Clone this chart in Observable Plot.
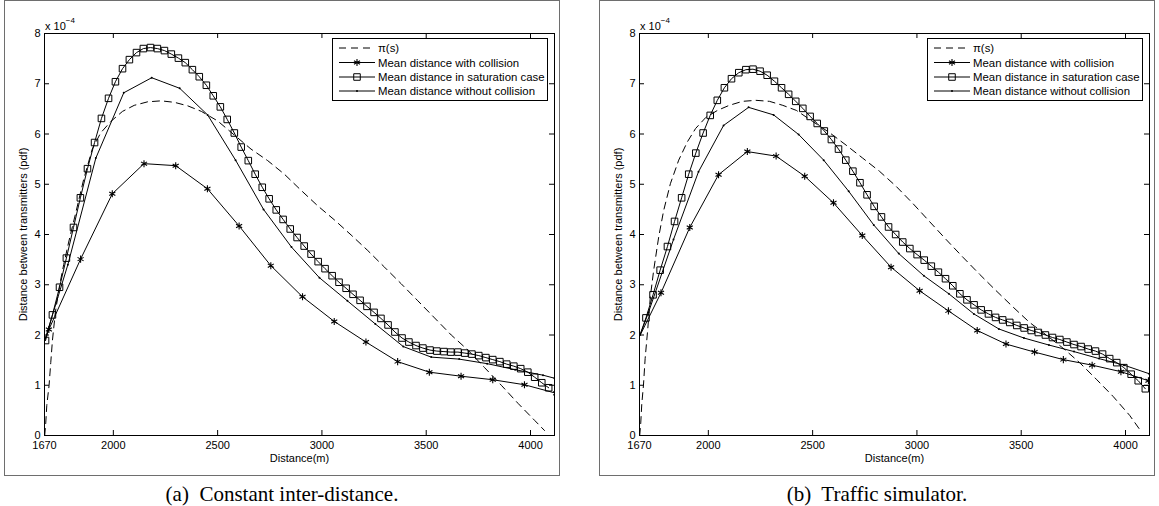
<!DOCTYPE html>
<html><head><meta charset="utf-8">
<script src="https://cdn.jsdelivr.net/npm/d3@7"></script>
<script src="https://cdn.jsdelivr.net/npm/@observablehq/plot@0.6"></script>
<style>
html,body{margin:0;padding:0;background:#fff;}
body{width:1159px;height:506px;position:relative;overflow:hidden;font-family:"Liberation Sans",Arial,Helvetica,sans-serif;color:#000;}
.box{position:absolute;top:0;height:476px;border:1.5px solid #6e6e6e;box-sizing:border-box;}
.plot{position:absolute;top:0;}
.exp{position:absolute;font-size:11px;line-height:11px;}
.exp sup{font-size:8px;position:relative;top:-2px;}
.cap{position:absolute;top:482px;font-family:"Liberation Serif","Times New Roman",serif;font-size:21px;line-height:24px;text-align:center;white-space:pre;}
.leg{position:absolute;}
</style></head><body>
<script>
// ---------- shared axes ----------
const xTicks = [1670, 2000, 2500, 3000, 3500, 4000];
const yTicks = [0, 1, 2, 3, 4, 5, 6, 7, 8];
const legendLabels = ["\u03c0(s)", "Mean distance with collision", "Mean distance in saturation case", "Mean distance without collision"];
const captions = ["(a)  Constant inter-distance.", "(b)  Traffic simulator."];

// ---------- (a) Constant inter-distance ----------
const piDistA = [1671,1676,1681,1692,1700,1708,1722,1742,1762,1786,1818,1858,1899,1939,1988,2044,2100,2164,2229,2293,2357,2422,2500,2580,2660,2740,2820,2900,2980,3060,3140,3220,3300,3380,3460,3540,3620,3700,3780,3860,3940,4020,4067];
const piPdfA  = [0,0.25,0.6,1.0,1.45,1.89,2.45,2.98,3.40,3.85,4.40,5.10,5.70,6.02,6.25,6.45,6.57,6.64,6.66,6.63,6.56,6.45,6.26,5.98,5.70,5.47,5.20,4.88,4.57,4.29,3.99,3.68,3.35,3.02,2.68,2.34,2.00,1.70,1.35,1.00,0.64,0.30,0.10];

const colDistA = [1670,1691,1843,1995,2147,2299,2451,2603,2755,2907,3059,3211,3363,3515,3667,3819,3971,4123];
const colPdfA  = [1.88,2.11,3.51,4.81,5.41,5.37,4.91,4.17,3.38,2.76,2.27,1.86,1.47,1.26,1.18,1.11,1.01,0.84];

const satDistA = [1675,1708,1742,1775,1809,1842,1876,1910,1943,1977,2010,2044,2077,2111,2144,2178,2211,2245,2278,2312,2345,2379,2412,2446,2479,2513,2546,2580,2613,2647,2680,2714,2747,2781,2814,2848,2881,2915,2948,2982,3015,3049,3082,3116,3149,3183,3216,3250,3283,3317,3350,3384,3417,3451,3484,3518,3551,3585,3618,3652,3685,3719,3752,3786,3819,3853,3886,3920,3953,3987,4020,4054,4087];
const satPdfA  = [1.89,2.40,2.95,3.53,4.14,4.73,5.31,5.83,6.31,6.71,7.04,7.30,7.48,7.62,7.70,7.72,7.70,7.66,7.59,7.51,7.42,7.28,7.14,6.97,6.76,6.54,6.29,6.02,5.74,5.47,5.20,4.94,4.71,4.49,4.30,4.11,3.94,3.77,3.61,3.46,3.32,3.18,3.05,2.93,2.81,2.69,2.57,2.45,2.33,2.20,2.06,1.94,1.86,1.79,1.74,1.70,1.68,1.67,1.66,1.66,1.64,1.62,1.59,1.55,1.51,1.47,1.42,1.38,1.33,1.26,1.16,1.05,0.95];

const woDistA = [1670,1782,1916,2050,2184,2318,2452,2586,2720,2854,2988,3122,3256,3390,3524,3658,3792,3926,4060,4115];
const woPdfA  = [1.88,3.40,5.52,6.82,7.12,6.91,6.38,5.48,4.50,3.75,3.14,2.68,2.22,1.77,1.56,1.52,1.43,1.31,1.20,1.14];

// ---------- (b) Traffic simulator ----------
const piDistB = [1671,1676,1681,1689,1697,1709,1722,1738,1762,1786,1818,1858,1899,1939,1988,2044,2100,2164,2229,2293,2357,2422,2500,2580,2660,2740,2820,2900,2980,3060,3140,3220,3300,3380,3460,3540,3620,3700,3780,3860,3940,4020,4068];
const piPdfB  = [0,0.25,0.63,1.0,1.53,2.09,2.76,3.29,3.95,4.48,5.01,5.48,5.84,6.11,6.33,6.47,6.57,6.65,6.67,6.65,6.57,6.47,6.25,6.03,5.78,5.52,5.26,4.96,4.62,4.26,3.90,3.55,3.21,2.88,2.56,2.25,2.00,1.74,1.45,1.12,0.78,0.40,0.12];

const colDistB = [1670,1773,1911,2049,2187,2325,2462,2600,2738,2876,3013,3151,3289,3427,3564,3702,3840,3978,4110];
const colPdfB  = [1.97,2.84,4.14,5.19,5.65,5.56,5.16,4.63,3.98,3.35,2.88,2.48,2.09,1.82,1.66,1.51,1.40,1.27,1.09];

const satDistB = [1670,1701,1735,1769,1804,1838,1872,1906,1940,1975,2009,2043,2077,2111,2146,2180,2214,2248,2282,2317,2351,2385,2419,2453,2488,2522,2556,2590,2624,2659,2693,2727,2761,2795,2830,2864,2898,2932,2966,3001,3035,3069,3103,3137,3172,3206,3240,3274,3308,3343,3377,3411,3445,3479,3514,3548,3582,3616,3650,3685,3719,3753,3787,3821,3856,3890,3924,3958,3992,4027,4061,4095];
const satPdfB  = [1.97,2.34,2.80,3.29,3.76,4.26,4.73,5.20,5.62,6.02,6.37,6.67,6.92,7.10,7.22,7.28,7.29,7.25,7.17,7.05,6.92,6.79,6.65,6.51,6.35,6.21,6.06,5.89,5.70,5.48,5.26,5.03,4.79,4.56,4.35,4.15,4.00,3.85,3.72,3.60,3.49,3.37,3.25,3.12,2.98,2.82,2.70,2.60,2.50,2.42,2.35,2.30,2.25,2.19,2.14,2.09,2.05,2.00,1.95,1.91,1.86,1.81,1.77,1.72,1.68,1.62,1.53,1.45,1.35,1.22,1.09,0.93];

const woDistB = [1670,1713,1833,1953,2073,2193,2313,2433,2553,2673,2793,2913,3033,3153,3273,3393,3513,3633,3753,3873,3993,4113];
const woPdfB  = [1.97,2.45,3.90,5.25,6.17,6.53,6.38,5.99,5.48,4.86,4.19,3.62,3.18,2.82,2.42,2.12,1.94,1.80,1.67,1.53,1.40,1.23];

// ---------- drawing ----------
const zip = (xs, ys) => xs.map((x, i) => ({x, y: ys[i]}));
const W = 556, H = 476, ML = 40, MR = 6, MT = 33, MB = 41;
const FW = W - ML - MR, FH = H - MT - MB, TICK = 5;
const FONT = '"Liberation Sans", Arial, Helvetica, sans-serif';
const DASH = "7,5";

function makePlot(s) {
  const pi = zip(s.piX, s.piY), col = zip(s.colX, s.colY), sat = zip(s.satX, s.satY), wo = zip(s.woX, s.woY);
  const mk = d => d.x > 1670.5;
  return Plot.plot({
    width: W, height: H, marginLeft: ML, marginRight: MR, marginTop: MT, marginBottom: MB,
    style: {fontFamily: FONT, fontSize: "11px", color: "black", background: "transparent", overflow: "visible"},
    x: {domain: [1670, 4115], inset: 0},
    y: {domain: [0, 8], inset: 0},
    marks: [
      Plot.line(pi, {x: "x", y: "y", stroke: "black", strokeWidth: 1, strokeDasharray: DASH, clip: true}),
      Plot.line(col, {x: "x", y: "y", stroke: "black", strokeWidth: 1, clip: true}),
      Plot.line(sat, {x: "x", y: "y", stroke: "black", strokeWidth: 1, clip: true}),
      Plot.line(wo, {x: "x", y: "y", stroke: "black", strokeWidth: 1, clip: true}),
      Plot.dot(col.filter(mk), {x: "x", y: "y", symbol: "asterisk", r: 3.3, stroke: "black", strokeWidth: 1.1, clip: true}),
      Plot.dot(sat.filter(mk), {x: "x", y: "y", symbol: "square", r: 3.7, stroke: "black", fill: "none", strokeWidth: 1, clip: true}),
      Plot.dot(wo.filter(mk), {x: "x", y: "y", r: 1, fill: "black", stroke: "none", clip: true}),
      Plot.frame({stroke: "black", strokeWidth: 1}),
      Plot.tickX(xTicks, {x: d => d, insetTop: FH - TICK, stroke: "black"}),
      Plot.tickX(xTicks, {x: d => d, insetBottom: FH - TICK, stroke: "black"}),
      Plot.tickY(yTicks, {y: d => d, insetRight: FW - TICK, stroke: "black"}),
      Plot.tickY(yTicks, {y: d => d, insetLeft: FW - TICK, stroke: "black"}),
      Plot.axisX({ticks: xTicks, tickSize: 0, tickPadding: 6, tickFormat: d => String(d), fontSize: 11,
        label: "Distance(m)", labelAnchor: "center", labelOffset: 26, labelArrow: "none"}),
      Plot.axisY({ticks: yTicks, tickSize: 0, tickPadding: 4, tickFormat: d => String(d), fontSize: 11,
        label: "Distance between transmitters (pdf)", labelAnchor: "center", labelOffset: 25, labelArrow: "none"})
    ]
  });
}

function makeLegend() {
  const LW = 216, LH = 63;
  const svg = d3.create("svg").attr("width", LW).attr("height", LH)
    .style("font-family", FONT).style("font-size", "11.4px");
  svg.append("rect").attr("x", 0.5).attr("y", 0.5).attr("width", LW - 1).attr("height", LH - 1)
    .attr("fill", "white").attr("stroke", "black").attr("stroke-width", 1);
  const rows = [10, 24.5, 39, 53];
  legendLabels.forEach((lab, i) => {
    const y = rows[i];
    svg.append("line").attr("x1", 7).attr("x2", 43).attr("y1", y).attr("y2", y)
      .attr("stroke", "black").attr("stroke-width", 1).attr("stroke-dasharray", i === 0 ? DASH : null);
    if (i === 1) svg.append("path").attr("d", d3.symbol(d3.symbolAsterisk, Math.PI * 3.3 * 3.3)()).attr("transform", `translate(25,${y})`).attr("stroke", "black").attr("stroke-width", 1.1);
    if (i === 2) svg.append("path").attr("d", d3.symbol(d3.symbolSquare, Math.PI * 3.7 * 3.7)()).attr("transform", `translate(25,${y})`).attr("stroke", "black").attr("fill", "none");
    if (i === 3) svg.append("circle").attr("cx", 25).attr("cy", y).attr("r", 1).attr("fill", "black");
    svg.append("text").attr("x", 46).attr("y", y).attr("dy", "0.36em").text(lab);
  });
  return svg.node();
}

const panels = [
  {left: 4, piX: piDistA, piY: piPdfA, colX: colDistA, colY: colPdfA, satX: satDistA, satY: satPdfA, woX: woDistA, woY: woPdfA, cap: captions[0]},
  {left: 599, piX: piDistB, piY: piPdfB, colX: colDistB, colY: colPdfB, satX: satDistB, satY: satPdfB, woX: woDistB, woY: woPdfB, cap: captions[1]}
];

panels.forEach(p => {
  const box = document.createElement("div");
  box.className = "box"; box.style.left = p.left + "px"; box.style.width = W + "px";
  document.body.appendChild(box);

  const holder = document.createElement("div");
  holder.className = "plot"; holder.style.left = p.left + "px";
  holder.appendChild(makePlot(p));
  document.body.appendChild(holder);

  const exp = document.createElement("div");
  exp.className = "exp"; exp.style.left = (p.left + ML + 1) + "px"; exp.style.top = "17px";
  exp.innerHTML = "x 10<sup>\u22124</sup>";
  document.body.appendChild(exp);

  const leg = document.createElement("div");
  leg.className = "leg"; leg.style.left = (p.left + W - MR - 6 - 216) + "px"; leg.style.top = (MT + 5) + "px";
  leg.appendChild(makeLegend());
  document.body.appendChild(leg);

  const cap = document.createElement("div");
  cap.className = "cap"; cap.style.left = p.left + "px"; cap.style.width = W + "px";
  cap.textContent = p.cap;
  document.body.appendChild(cap);
});
</script>
</body></html>
